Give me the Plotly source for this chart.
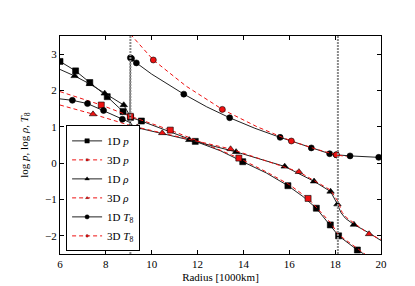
import plotly.graph_objects as go

# ---- data ----
# 1 = point carries a marker, 0 = line point only
p1d_r = [6.0, 6.68, 7.3, 8.06, 8.75, 9.08, 9.55, 10.5, 11.9, 13.0, 13.97, 15.0, 15.94, 16.6, 17.18, 17.79, 18.15, 18.97, 19.25]
p1d_v = [2.80, 2.54, 2.22, 1.83, 1.42, 1.26, 1.16, 0.94, 0.60, 0.34, 0.04, -0.27, -0.62, -0.92, -1.24, -1.70, -2.0, -2.39, -2.5]
p1d_m = [1, 1, 1, 1, 1, 1, 1, 0, 1, 0, 1, 0, 1, 0, 1, 1, 1, 1, 0]

p3d_r = [6.0, 7.8, 9.07, 9.9, 10.81, 12.3, 13.8, 15.0, 16.0, 16.82, 17.8, 18.15, 19.3]
p3d_v = [1.97, 1.60, 1.29, 1.10, 0.91, 0.54, 0.14, -0.24, -0.59, -0.97, -1.64, -1.97, -2.5]
p3d_m = [0, 1, 1, 0, 1, 0, 1, 0, 0, 1, 0, 0, 0]

rho1d_r = [6.0, 6.64, 7.3, 7.95, 8.78, 9.07, 9.08, 9.4, 11.64, 13.68, 15.8, 17.08, 17.8, 18.1, 18.25, 18.45, 18.82, 19.48, 20.0]
rho1d_v = [2.58, 2.40, 2.18, 1.92, 1.60, 1.28, 1.02, 0.97, 0.64, 0.31, -0.09, -0.50, -0.78, -1.13, -1.36, -1.52, -1.69, -1.92, -2.13]
rho1d_m = [0, 1, 1, 1, 1, 0, 1, 0, 1, 1, 1, 1, 1, 1, 0, 0, 1, 0, 0]

rho3d_r = [6.0, 7.44, 9.1, 9.37, 10.46, 13.44, 16.42, 17.8, 18.15, 18.3, 18.5, 19.48, 20.0]
rho3d_v = [1.60, 1.35, 1.03, 0.99, 0.83, 0.39, -0.24, -0.74, -1.08, -1.35, -1.50, -1.95, -2.10]
rho3d_m = [0, 1, 0, 1, 1, 1, 1, 0, 0, 0, 0, 1, 0]

t1d_r = [6.0, 6.54, 7.2, 7.9, 8.72, 9.05, 9.07, 9.12, 9.33, 10.0, 11.4, 12.4, 13.4, 14.5, 15.6, 16.96, 17.76, 18.05, 18.65, 19.9, 20.0]
t1d_v = [1.77, 1.73, 1.64, 1.45, 1.21, 1.12, 2.90, 2.88, 2.76, 2.45, 1.90, 1.55, 1.25, 0.96, 0.71, 0.42, 0.26, 0.23, 0.20, 0.16, 0.16]
t1d_m = [0, 1, 1, 1, 1, 0, 1, 1, 1, 0, 1, 0, 1, 0, 1, 1, 1, 1, 1, 1, 0]

t3d_r = [9.07, 10.07, 11.5, 13.08, 14.6, 16.09, 17.2, 18.05, 18.5]
t3d_v = [3.55, 2.84, 2.12, 1.48, 1.00, 0.61, 0.38, 0.23, 0.18]
t3d_m = [0, 1, 0, 1, 0, 1, 0, 1, 0]

boundaries = [9.07, 18.12]

x_ticks = [6, 8, 10, 12, 14, 16, 18, 20]
y_ticks = [-2, -1, 0, 1, 2, 3]

FONT = "Liberation Serif"
RED = "#ee1111"

series = [
    ("1D <i>p</i>", p1d_r, p1d_v, p1d_m, "black", "solid", "square", 6),
    ("3D <i>p</i>", p3d_r, p3d_v, p3d_m, RED, "dash", "square", 6),
    ("1D <i>ρ</i>", rho1d_r, rho1d_v, rho1d_m, "black", "solid", "triangle-up", 6.5),
    ("3D <i>ρ</i>", rho3d_r, rho3d_v, rho3d_m, RED, "dash", "triangle-up", 6.5),
    ("1D <i>T</i><sub>8</sub>", t1d_r, t1d_v, t1d_m, "black", "solid", "circle", 6),
    ("3D <i>T</i><sub>8</sub>", t3d_r, t3d_v, t3d_m, RED, "dash", "circle", 6),
]

fig = go.Figure()

for b in boundaries:
    fig.add_vline(x=b, line=dict(color="#8a8a8a", width=2, dash="2px,1px"), layer="above")

for name, r, v, m, col, dash, sym, sz in series:
    fig.add_trace(go.Scatter(
        x=r, y=v, name=name, mode="lines+markers",
        line=dict(color="#222222" if col == "black" else col, width=1,
                  dash="solid" if dash == "solid" else "4px,3px"),
        marker=dict(
            symbol=sym, color=col, opacity=1,
            size=[sz if k else 0 for k in m],
            line=dict(color="black", width=[0.6 if k else 0 for k in m]),
        ),
    ))

fig.update_layout(
    width=415, height=286,
    margin=dict(l=52, r=42, t=28, b=29),
    paper_bgcolor="white", plot_bgcolor="white",
    font=dict(family=FONT, size=11, color="black"),
    legend=dict(
        x=0.019, y=0.012, xanchor="left", yanchor="bottom",
        bordercolor="black", borderwidth=1, bgcolor="white",
        font=dict(family=FONT, size=11),
        tracegroupgap=0, itemwidth=30,
    ),
    showlegend=True,
)
fig.update_xaxes(
    range=[6, 20], tickvals=x_ticks, ticktext=[str(t) for t in x_ticks],
    ticks="inside", ticklen=4, tickwidth=1, tickcolor="black",
    showline=True, linecolor="black", linewidth=1, mirror="ticks",
    showgrid=False, zeroline=False,
    title=dict(text="Radius [1000km]", font=dict(family=FONT, size=11), standoff=4),
    tickfont=dict(family=FONT, size=11),
)
fig.update_yaxes(
    range=[-2.5, 3.5], tickvals=y_ticks,
    ticktext=[("−" + str(-t)) if t < 0 else str(t) for t in y_ticks],
    ticks="inside", ticklen=4, tickwidth=1, tickcolor="black",
    showline=True, linecolor="black", linewidth=1, mirror="ticks",
    showgrid=False, zeroline=False,
    title=dict(text="log <i>p</i>, log <i>ρ</i>, <i>T</i><sub>8</sub>",
               font=dict(family=FONT, size=11), standoff=14),
    tickfont=dict(family=FONT, size=11),
)

fig.write_html("out.html")
